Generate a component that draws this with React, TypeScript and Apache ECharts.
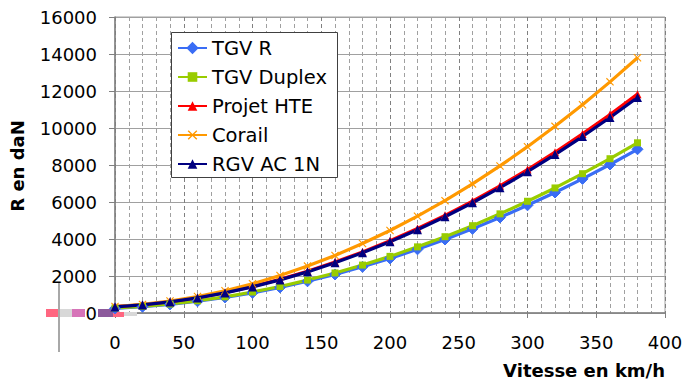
import React, { useEffect, useRef } from "react";
import * as echarts from "echarts";

const speeds = [0, 20, 40, 60, 80, 100, 120, 140, 160, 180, 200, 220, 240, 260, 280, 300, 320, 340, 360, 380];
const tgvR = [250, 337, 465, 634, 843, 1092, 1382, 1713, 2084, 2496, 2950, 3441, 3974, 4548, 5163, 5821, 6514, 7250, 8027, 8850];
const tgvDuplex = [270, 355, 485, 660, 875, 1135, 1435, 1780, 2165, 2590, 3060, 3575, 4125, 4720, 5360, 6040, 6760, 7530, 8340, 9200];
const projetHTE = [340, 445, 608, 828, 1102, 1432, 1817, 2256, 2752, 3301, 3906, 4566, 5280, 6050, 6875, 7755, 8691, 9681, 10727, 11830];
const corail = [350, 464, 645, 891, 1203, 1581, 2025, 2535, 3110, 3753, 4461, 5233, 6073, 6978, 7950, 8990, 10090, 11259, 12494, 13800];
const rgv = [330, 438, 599, 816, 1086, 1411, 1790, 2223, 2711, 3252, 3848, 4499, 5202, 5961, 6773, 7640, 8563, 9538, 10568, 11650];

const seriesNames = ["TGV R", "TGV Duplex", "Projet HTE", "Corail", "RGV AC 1N"];
const seriesValues = [tgvR, tgvDuplex, projetHTE, corail, rgv];
const seriesColors = ["#3a6df5", "#99cc00", "#ff0000", "#ff9900", "#000080"];
const seriesSymbols = [
  "diamond",
  "rect",
  "triangle",
  "path://M0,1 L1,0 L5,4 L9,0 L10,1 L6,5 L10,9 L9,10 L5,6 L1,10 L0,9 L4,5 Z",
  "triangle",
];
const seriesSymbolSizes = [11, 7, 8, 8, 9];

const FONT = "DejaVu Sans";

export default function App() {
  const ref = useRef<HTMLDivElement>(null);

  useEffect(() => {
    if (!ref.current) return;
    const chart = echarts.init(ref.current, undefined, { renderer: "svg" });
    const series = seriesNames.map((name, i) => ({
      name,
      type: "line",
      data: speeds.map((s, j) => [s, seriesValues[i][j]]),
      symbol: seriesSymbols[i],
      symbolSize: seriesSymbolSizes[i],
      showAllSymbol: true,
      lineStyle: { color: seriesColors[i], width: 3.2 },
      itemStyle: { color: seriesColors[i], borderColor: seriesColors[i], borderWidth: i === 0 ? 1 : 0 },
      emphasis: { disabled: true },
    }));
    chart.setOption({
      animation: false,
      textStyle: { fontFamily: FONT },
      grid: {
        left: 115,
        right: 21,
        top: 17,
        bottom: 70,
        show: true,
        borderColor: "#a0a0a0",
        borderWidth: 1,
        backgroundColor: "transparent",
      },
      xAxis: {
        type: "value",
        min: 0,
        max: 400,
        interval: 50,
        axisLine: { lineStyle: { color: "#808080", width: 1.5 } },
        axisTick: { show: true, length: 5, lineStyle: { color: "#808080" } },
        axisLabel: { fontFamily: FONT, fontSize: 18, color: "#000", margin: 20 },
        splitLine: { show: true, lineStyle: { color: "#808080", type: [4, 3], width: 1 } },
        minorTick: { show: false, splitNumber: 5 },
        minorSplitLine: { show: true, lineStyle: { color: "#a0a0a0", type: [4, 3], width: 1 } },
      },
      yAxis: {
        type: "value",
        min: 0,
        max: 16000,
        interval: 2000,
        axisLine: { show: true, lineStyle: { color: "#808080", width: 1.5 } },
        axisTick: { show: true, length: 6, lineStyle: { color: "#808080" } },
        axisLabel: {
          fontFamily: FONT,
          fontSize: 18,
          color: "#000",
          margin: 18,
          formatter: (v: number) => String(v),
        },
        splitLine: { show: true, lineStyle: { color: "#a0a0a0", width: 1 } },
      },
      legend: {
        orient: "vertical",
        left: 177,
        top: 38,
        padding: 0,
        itemWidth: 29,
        itemHeight: 12,
        itemGap: 9,
        textStyle: { fontFamily: FONT, fontSize: 19.5, color: "#000", lineHeight: 20 },
        data: seriesNames,
        selectedMode: false,
        z: 10,
      },
      graphic: [
        {
          type: "rect",
          shape: { x: 171.5, y: 32.5, width: 166, height: 145 },
          style: { fill: "#fff", stroke: "#404040", lineWidth: 1 },
          z: 5,
        },
        {
          type: "text",
          x: 665,
          y: 370,
          style: {
            text: "Vitesse en km/h",
            font: `bold 18px "${FONT}"`,
            fill: "#000",
            align: "right",
            verticalAlign: "middle",
          },
        },
        {
          type: "text",
          x: 17,
          y: 166,
          rotation: Math.PI / 2,
          style: {
            text: "R en daN",
            font: `bold 18px "${FONT}"`,
            fill: "#000",
            align: "center",
            verticalAlign: "middle",
          },
        },
        { type: "rect", shape: { x: 46, y: 309, width: 13, height: 8 }, style: { fill: "#ff6680" }, z: 1 },
        { type: "rect", shape: { x: 59, y: 309, width: 13, height: 8 }, style: { fill: "#d8d8d8" }, z: 1 },
        { type: "rect", shape: { x: 72, y: 309, width: 13, height: 8 }, style: { fill: "#d674b8" }, z: 1 },
        { type: "rect", shape: { x: 98, y: 309, width: 15, height: 8 }, style: { fill: "#8c5a9c" }, z: 1 },
        { type: "rect", shape: { x: 113, y: 312, width: 11, height: 5 }, style: { fill: "#ff6680" }, z: 1 },
        { type: "rect", shape: { x: 124, y: 312, width: 13, height: 4 }, style: { fill: "#d8d8d8" }, z: 1 },
        {
          type: "line",
          shape: { x1: 59, y1: 283, x2: 59, y2: 352 },
          style: { stroke: "#a8a8a8", lineWidth: 2 },
          z: 1,
        },
      ],
      series,
    });
    return () => chart.dispose();
  }, []);

  return (
    <div
      ref={ref}
      style={{ position: "fixed", left: 0, top: 0, width: 686, height: 383, background: "#fff" }}
    />
  );
}
